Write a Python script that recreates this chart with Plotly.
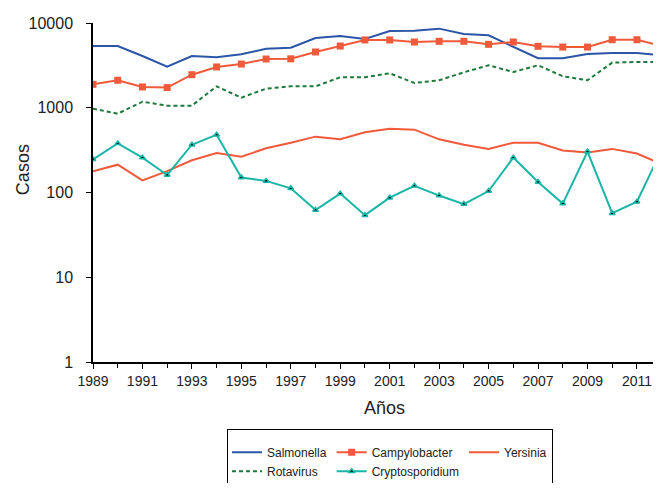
"""
Casos anuales por patógeno (escala logarítmica), 1989-2012
"""

import plotly.graph_objects as go

years = list(range(1989, 2013))

salmonella = [5350, 5350, 4080, 3050, 4080, 3940, 4270, 4980, 5120, 6650, 7030, 6470,
              8050, 8110, 8580, 7410, 7160, 5260, 3840, 3840, 4310, 4430, 4430, 4170]
campylobacter = [1890, 2110, 1760, 1730, 2455, 3030, 3280, 3760, 3780, 4550, 5350, 6310,
                 6310, 5970, 6080, 6080, 5600, 5970, 5310, 5200, 5200, 6350, 6350, 5370]
yersinia = [178, 213, 139, 179, 240, 293, 265, 332, 387, 456, 424, 513,
            566, 551, 424, 366, 326, 387, 387, 313, 296, 327, 288, 216]
rotavirus = [975, 851, 1178, 1058, 1058, 1790, 1315, 1680, 1790, 1790, 2285, 2285,
             2550, 1960, 2110, 2620, 3170, 2640, 3170, 2355, 2110, 3410, 3470, 3470]
cryptosporidium = [246, 380, 258, 161, 366, 481, 150, 137, 112, 62, 97, 54,
                   87, 120, 92, 73, 104, 258, 133, 74, 304, 57, 78, 318]

y_ticks = [1, 10, 100, 1000, 10000]
x_ticks = list(range(1989, 2013, 2))

FONT = "Liberation Sans, Arial, sans-serif"
BLUE = "#2b55a6"
RED = "#f05a3a"
GREEN = "#1d7a3c"
TEAL = "#19b5a7"

fig = go.Figure()

# legend groups give the column layout of the legend box (3 columns, 2 rows)
fig.add_trace(go.Scatter(x=years, y=salmonella, name="Salmonella", mode="lines",
                         legendgroup="a", line=dict(color=BLUE, width=2)))
fig.add_trace(go.Scatter(x=years, y=campylobacter, name="Campylobacter", mode="lines+markers",
                         legendgroup="b", line=dict(color=RED, width=2),
                         marker=dict(symbol="square", size=7, color=RED)))
fig.add_trace(go.Scatter(x=years, y=yersinia, name="Yersinia", mode="lines",
                         legendgroup="c", line=dict(color=RED, width=2)))
fig.add_trace(go.Scatter(x=years, y=rotavirus, name="Rotavirus", mode="lines",
                         legendgroup="a", line=dict(color=GREEN, width=2, dash="4px,3px")))
fig.add_trace(go.Scatter(x=years, y=cryptosporidium, name="Cryptosporidium", mode="lines+markers",
                         legendgroup="b", line=dict(color=TEAL, width=2),
                         marker=dict(symbol="triangle-up", size=5, color="black",
                                     line=dict(color=TEAL, width=1.5))))

fig.update_xaxes(
    range=[1989, 2011.65],
    tickvals=x_ticks,
    ticks="outside", ticklen=5, tickwidth=1, tickcolor="black",
    minor=dict(dtick=1, tick0=1989, ticks="outside", ticklen=4, tickcolor="black"),
    showline=True, linecolor="black", linewidth=1.5,
    showgrid=False, zeroline=False, automargin=False,
    ticklabeloverflow="allow",
    tickfont=dict(family=FONT, size=14, color="#222"),
)
fig.update_yaxes(
    type="log",
    range=[0, 4],
    tickvals=y_ticks,
    ticktext=[str(v) for v in y_ticks],
    ticks="outside", ticklen=5, tickwidth=1, tickcolor="black",
    ticklabelstandoff=10,
    showline=True, linecolor="black", linewidth=1.5,
    showgrid=False, zeroline=False, automargin=False,
    tickfont=dict(family=FONT, size=16, color="#222"),
)

# the page body has an 8px margin, so the figure is sized to the visible area
fig.update_layout(
    width=645,
    height=475,
    margin=dict(l=85, r=0, t=15, b=121),
    plot_bgcolor="white",
    paper_bgcolor="white",
    font=dict(family=FONT, color="#222"),
    showlegend=True,
    legend=dict(
        orientation="h",
        traceorder="grouped",
        xref="container", yref="container",
        x=0.3395, xanchor="left",
        y=0.114, yanchor="top",
        bordercolor="black", borderwidth=1,
        bgcolor="white",
        title=dict(text=" ", side="top", font=dict(size=6)),
        font=dict(family=FONT, size=12, color="#222"),
    ),
    annotations=[
        dict(text="Casos", textangle=-90, xref="paper", yref="paper",
             x=-0.125, y=0.566, xanchor="center", yanchor="middle", showarrow=False,
             font=dict(family=FONT, size=18, color="#222")),
        dict(text="Años", xref="paper", yref="paper",
             x=0.52, y=-0.1357, xanchor="center", yanchor="middle", showarrow=False,
             font=dict(family=FONT, size=18, color="#222")),
    ],
)

fig.write_html("out.html")
